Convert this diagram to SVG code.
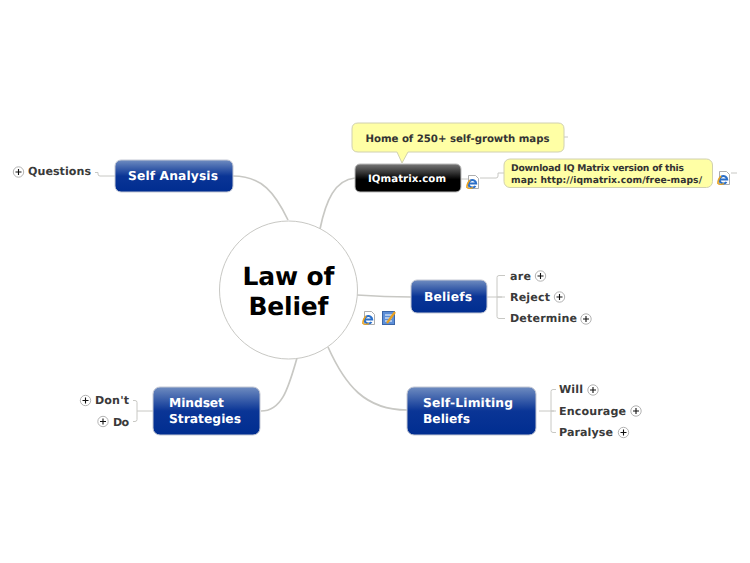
<svg xmlns="http://www.w3.org/2000/svg" width="750" height="563" viewBox="0 0 750 563">
<style>
text{font-family:"DejaVu Sans",Verdana,sans-serif;font-weight:bold;text-rendering:geometricPrecision}
.t{font-size:12.300px;fill:#fff}
.c{font-size:11.100px;fill:#3a3a3a}
.n{font-size:9.200px;fill:#333}
.m{fill:none;stroke:#c8c8c4;stroke-width:1.700}
.l{fill:none;stroke:#c8c8c4;stroke-width:1}
.box{stroke:#c4c8d4;stroke-width:1}
.p{fill:#fff;stroke:#aaa;stroke-width:.9}
.s{stroke:#111;stroke-width:1.100;fill:none}
.note{fill:#ffffa5;stroke:#d0d0b0;stroke-width:1}
</style>
<defs>
<linearGradient id="blue" x1="0" y1="0" x2="0" y2="1"><stop offset="0" stop-color="#6f8cc0"/><stop offset=".5" stop-color="#0a3596"/><stop offset="1" stop-color="#002d90"/></linearGradient>
<linearGradient id="black" x1="0" y1="0" x2="0" y2="1"><stop offset="0" stop-color="#777"/><stop offset=".55" stop-color="#000"/><stop offset="1" stop-color="#000"/></linearGradient>
<g id="plus"><circle r="5.200" class="p"/><path d="M-3 0H3M0-3V3" class="s"/></g>
<g id="ie"><path d="M-4.500-6.500H2.500L5.500-3.500V6.500H-4.500Z" fill="#fff" stroke="#999" stroke-width=".8"/><path d="M-4 1.500H3.200A3.800 3.800 0 1 0 2.500 4" fill="none" stroke="#2a6fc9" stroke-width="2"/><path d="M-6 6Q-6.500 2 -3 -2" fill="none" stroke="#e9a21f" stroke-width="1.600"/><path d="M-6 6Q-3 7 0 5.500" fill="none" stroke="#e9a21f" stroke-width="1.300"/></g>
</defs>
<g id="connectors">
<path class="m" d="M233 176C262 176 275 193 288 220"/>
<path class="m" d="M355 178C335 180 326 200 320 229"/>
<path class="m" d="M357 295Q385 297 411 297"/>
<path class="m" d="M328 347C345 385 365 410 407 410"/>
<path class="m" d="M297 358C289 385 283 411 261 411"/>
<path class="l" d="M115 176H100Q98 176 98 174V172.500H95"/>
<path class="l" d="M461 179H470"/>
<path class="l" d="M480 178H496Q498 178 498 176V173H504"/>
<path class="l" d="M564 137H568"/>
<path class="l" d="M731 173H737"/>
<path class="l" d="M487 297H502M497 297V277.500Q497 275.500 499 275.500H505M497 297H505M497 297V316.500Q497 318.500 499 318.500H505"/>
<path class="l" d="M539 411H554M551 411V391.500Q551 389.500 553 389.500H556M551 411H556M551 411V430.500Q551 432.500 553 432.500H556"/>
<path class="l" d="M153 411H137M137 411V402.500Q137 400.500 135 400.500H133M137 411V419.500Q137 421.500 135 421.500H133"/>
</g>
<g id="center"><circle cx="288.500" cy="290" r="69" fill="#fff" stroke="#c8c8c4" stroke-width="1"/><text x="288.500" y="285" text-anchor="middle" font-size="25" fill="#000" textLength="92">Law of</text><text x="288.500" y="315" text-anchor="middle" font-size="25" fill="#000" textLength="80">Belief</text></g>
<g id="self-analysis"><rect class="box" x="115" y="160" width="118" height="32" rx="6" fill="url(#blue)"/><text class="t" x="128" y="180" textLength="90">Self Analysis</text></g>
<g id="questions"><use href="#plus" x="18.500" y="172"/><text class="c" x="28" y="175" textLength="63">Questions</text></g>
<g id="iqmatrix"><rect x="355" y="164" width="106" height="28" rx="5" fill="url(#black)" stroke="#bbb"/><text x="368" y="182" font-size="10.200" fill="#fff" textLength="78">IQmatrix.com</text><use href="#ie" x="473" y="182"/></g>
<g id="note-home"><path class="note" d="M358 123H558Q564 123 564 129V146Q564 152 558 152H408L402 163L397 152H358Q352 152 352 146V129Q352 123 358 123Z"/><text x="365.500" y="142" font-size="10.200" fill="#333" textLength="184">Home of 250+ self-growth maps</text></g>
<g id="note-download"><rect class="note" x="504" y="159" width="208.500" height="28.500" rx="6"/><text class="n" x="511" y="171" textLength="173">Download IQ Matrix version of this</text><text class="n" x="511" y="182.500" textLength="191">map: http://iqmatrix.com/free-maps/</text><use href="#ie" x="724" y="178"/></g>
<g id="beliefs"><rect class="box" x="411" y="280" width="76" height="33" rx="6" fill="url(#blue)"/><text class="t" x="424" y="301" textLength="48">Beliefs</text></g>
<g id="center-icons"><use href="#ie" x="369" y="318"/><rect x="382.500" y="311.500" width="12" height="13" fill="#5d8fd8" stroke="#3c66a8"/><path d="M385 315H392M385 318H392M385 321H392" stroke="#fff" stroke-width="1"/><path d="M387 323L395 312" stroke="#e8a020" stroke-width="2.200"/></g>
<g id="are"><text class="c" x="510" y="280" textLength="21">are</text><use href="#plus" x="540.500" y="276"/></g>
<g id="reject"><text class="c" x="510" y="301" textLength="40">Reject</text><use href="#plus" x="559.500" y="297"/></g>
<g id="determine"><text class="c" x="510" y="322" textLength="67">Determine</text><use href="#plus" x="586" y="319"/></g>
<g id="self-limiting"><rect class="box" x="407" y="387" width="129" height="48" rx="7" fill="url(#blue)"/><text class="t" x="423" y="407" textLength="90">Self-Limiting</text><text class="t" x="423" y="422.500" textLength="47">Beliefs</text></g>
<g id="will"><text class="c" x="559" y="393" textLength="24">Will</text><use href="#plus" x="593" y="390"/></g>
<g id="encourage"><text class="c" x="559" y="415" textLength="67">Encourage</text><use href="#plus" x="636" y="411"/></g>
<g id="paralyse"><text class="c" x="559" y="436" textLength="54">Paralyse</text><use href="#plus" x="623.500" y="432.500"/></g>
<g id="mindset"><rect class="box" x="153" y="387" width="107" height="48" rx="7" fill="url(#blue)"/><text class="t" x="169" y="407" textLength="55">Mindset</text><text class="t" x="169" y="422.500" textLength="72">Strategies</text></g>
<g id="dont"><use href="#plus" x="85.500" y="400.500"/><text class="c" x="95" y="404" textLength="34">Don't</text></g>
<g id="do"><use href="#plus" x="103" y="421.500"/><text class="c" x="113" y="425.500" textLength="16">Do</text></g>
</svg>
